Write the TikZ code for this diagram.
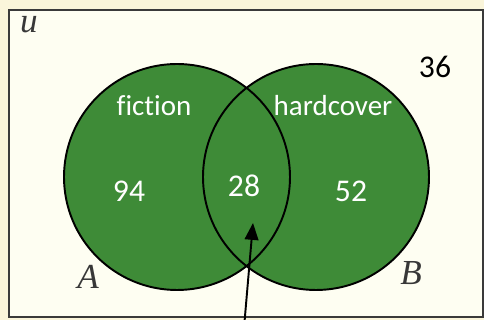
\documentclass[tikz,border=0pt]{standalone}
\usepackage{fontspec}
\setmainfont{Carlito}[Ligatures=NoCommon]
\newfontfamily\setfont{Liberation Serif}
\usetikzlibrary{arrows.meta}
\definecolor{setgreen}{RGB}{62,139,55}
\definecolor{paper}{RGB}{254,254,242}
\definecolor{margin}{RGB}{250,245,218}
\definecolor{frame}{RGB}{58,58,58}
\definecolor{setname}{RGB}{56,56,56}
\begin{document}
\begin{tikzpicture}%
	[x={(0.02cm,0cm)},
	y={(0cm,-0.02cm)},
	set/.style={fill=setgreen},
	rim/.style={draw=black, line width=1.1pt},
	word/.style={text=white, font=\fontsize{16.5}{18}\selectfont},
	count/.style={text=white, font=\fontsize{18}{20}\selectfont},
	label/.style={text=black, font=\fontsize{18}{20}\selectfont},
	setletter/.style={text=setname, font=\fontsize{20}{22}\selectfont\setfont\itshape},
	pointer/.style={draw=black, line width=1.1pt, -{Triangle[length=16pt*0.6,width=13pt*0.6]}}]
%
%% Page and universe
%%
\useasboundingbox[fill=margin] (0,0) rectangle (484,320);
\fill[paper] (9,10) rectangle (483,317);
\draw[frame, line width=1.6pt] (9,10) rectangle (483,317);
\node[setletter] (u) at (29,25) {u};
\node[label] (rest) at (435,67) {36};
%%
%% The two sets
%%
\coordinate (cA) at (177,177);
\coordinate (cB) at (316,177);
\fill[set] (cA) circle [radius=113];
\fill[set] (cB) circle [radius=113];
\draw[rim] (cA) circle [radius=113];
\draw[rim] (cB) circle [radius=113];
%%
%% Labels and counts
%%
\node[word] (fiction) at (154,106) {fiction};
\node[word] (hardcover) at (333,106) {hardcover};
\node[count] (onlyA) at (129,191) {94};
\node[count] (both) at (244,186) {28};
\node[count] (onlyB) at (351,191) {52};
\node[setletter] (A) at (88,277) {A};
\node[setletter] (B) at (411,273) {B};
%%
%% Pointer into the overlap
%%
\coordinate (tail) at (244.5,322);
\coordinate (tip) at (253,223);
\draw[pointer] (tail) -- (tip);
%%
\end{tikzpicture}
\end{document}
